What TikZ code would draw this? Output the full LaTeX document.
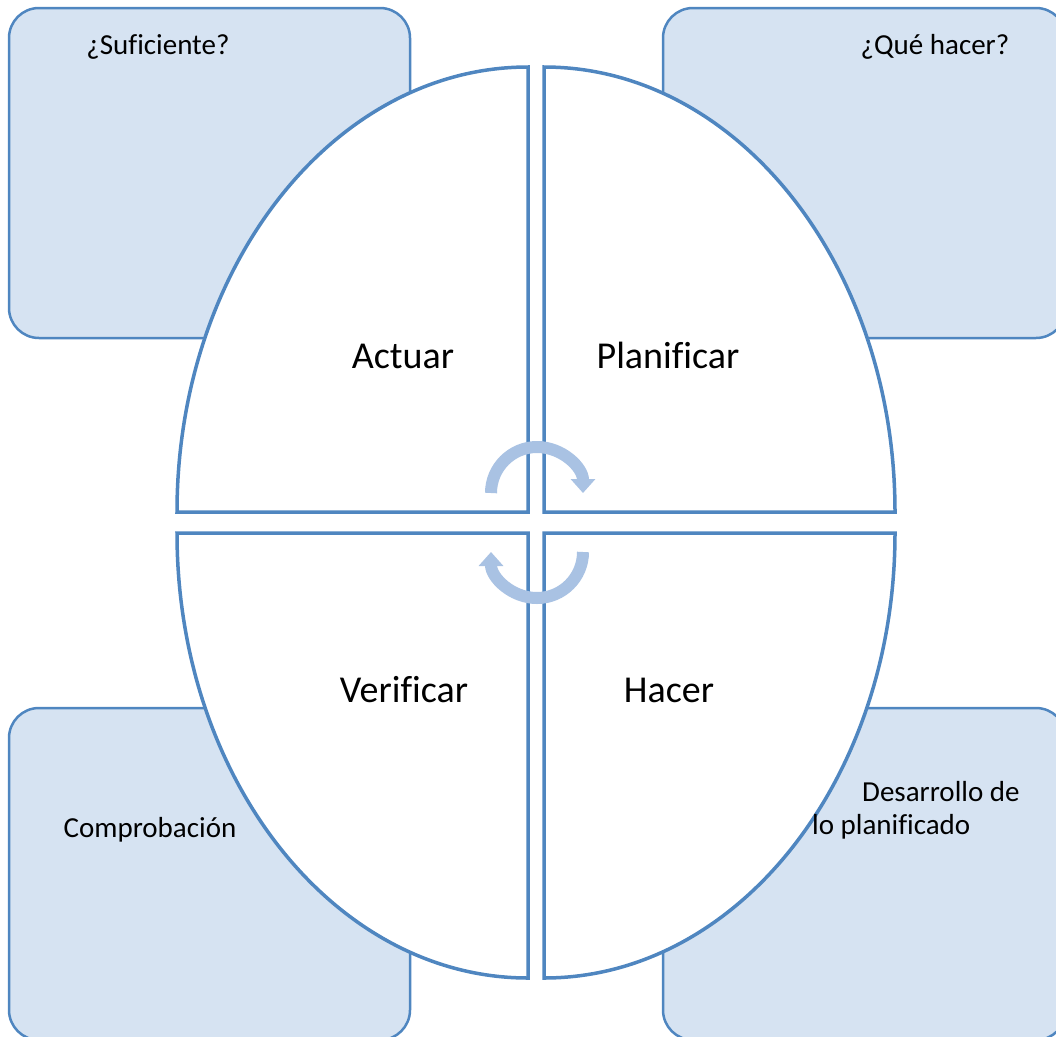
\documentclass[tikz,border=0pt]{standalone}
\usepackage{fontspec}
\setmainfont[Ligatures=NoCommon]{Carlito}
\usepackage{xcolor}
\usetikzlibrary{arrows.meta}
\definecolor{edge}{HTML}{4F86C0}
\definecolor{boxfill}{HTML}{D6E3F2}
\definecolor{cycle}{HTML}{A9C2E3}
\tikzset{
  box/.style={draw=edge, line width=2.5pt, fill=boxfill, rounded corners=30pt},
  quad/.style={draw=edge, line width=3.5pt, fill=white, line join=miter},
  turn/.style={draw=cycle, line width=12pt, -{Triangle[width=24pt,length=14pt]}},
  big/.style={font=\fontsize{38}{44}\selectfont, anchor=base},
  note/.style={font=\fontsize{29}{33}\selectfont, anchor=base}
}

\begin{document}
\begin{tikzpicture}[x=1pt,y=-1pt]
\useasboundingbox (0,0) rectangle (1056,1036);
% corner boxes
\begin{scope}
\clip (0,0) rectangle (1056,1036);
\draw[box] (9,8) rectangle (410,338);
\draw[box] (663,8) rectangle (1066,338);
\draw[box] (9,708) rectangle (410,1040);
\draw[box] (663,708) rectangle (1066,1040);
\end{scope}

% quarters of the ellipse
\draw[quad] (528,512) -- (177,512) arc[start angle=180, end angle=270, x radius=351, y radius=445] -- cycle;
\draw[quad] (544,512) -- (544,67) arc[start angle=270, end angle=360, x radius=351, y radius=445] -- cycle;
\draw[quad] (544,533) -- (895,533) arc[start angle=0, end angle=90, x radius=351, y radius=445] -- cycle;
\draw[quad] (528,533) -- (528,978) arc[start angle=90, end angle=180, x radius=351, y radius=445] -- cycle;

% cycle arrows
\draw[turn] (491,493) arc[start angle=180, end angle=360, radius=46];
\draw[turn] (583,552) arc[start angle=0, end angle=180, radius=46];

% labels
\node[big] (act) at (403,368) {Actuar};
\node[big] (plan) at (668,368) {Planificar};
\node[big] (ver) at (404,702) {Verificar};
\node[big] (hac) at (669,702) {Hacer};

\node[note] (suf) at (158,54) {¿Suficiente?};
\node[note] (que) at (935,54) {¿Qué hacer?};
\node[note] (comp) at (150,837) {Comprobación};
\node[note, anchor=base west, align=left, inner sep=0pt] (des) at (812,834) {\hspace*{50pt}Desarrollo de\\lo planificado};
\end{tikzpicture}
\end{document}
